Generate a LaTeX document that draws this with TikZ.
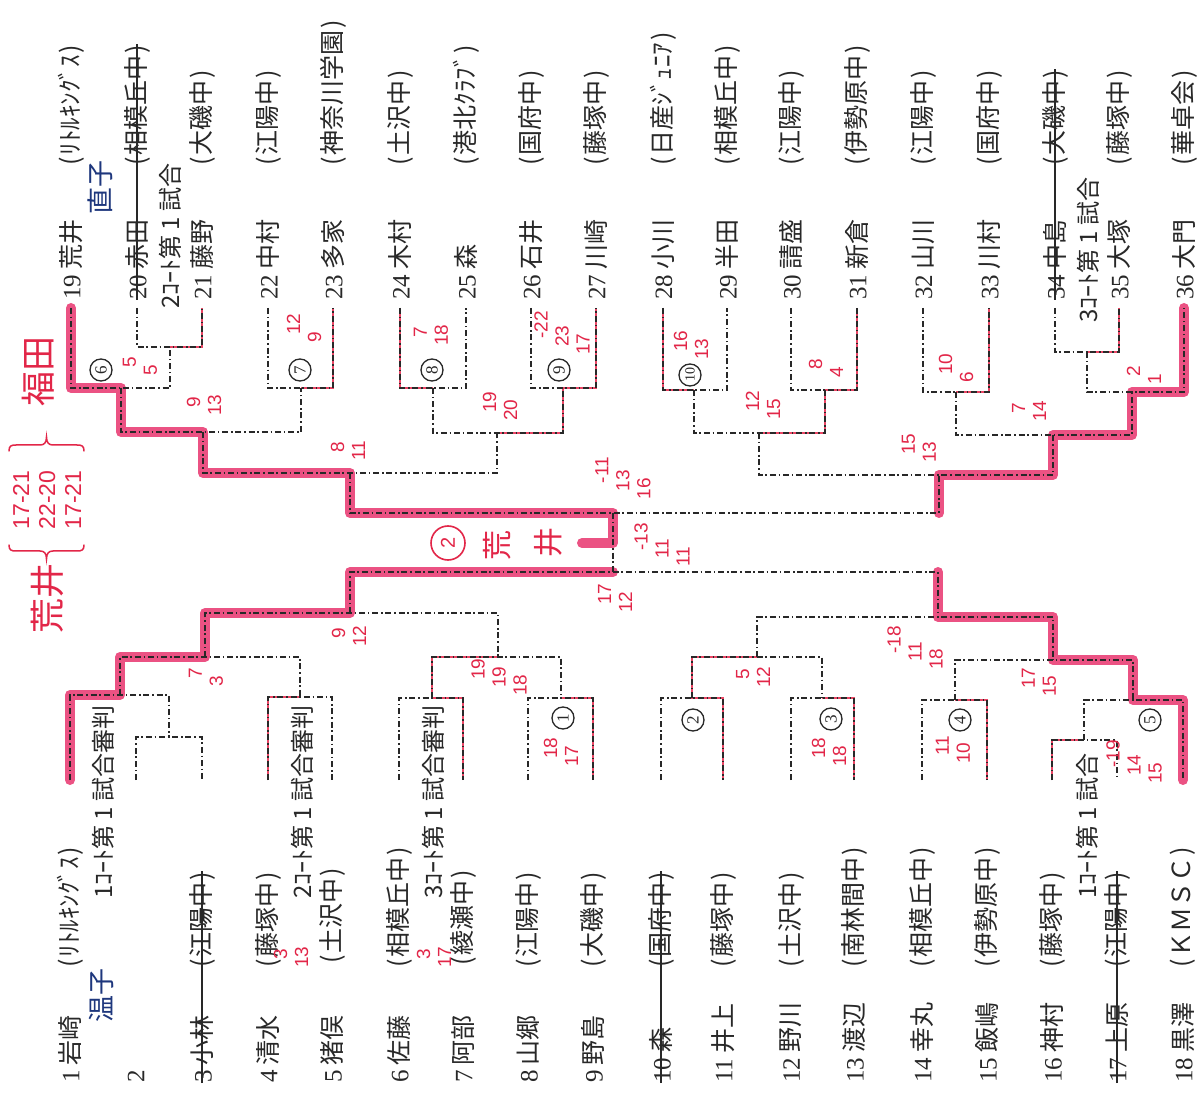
\documentclass[tikz,border=0pt]{standalone}
\usepackage{fontspec}
\setmainfont{Liberation Serif}
\newfontfamily\jp{Noto Sans CJK JP}
\newfontfamily\hand{Liberation Sans}
\usetikzlibrary{calc}
\definecolor{champ}{RGB}{232,52,110}
\definecolor{winred}{RGB}{232,50,85}
\definecolor{scorered}{RGB}{226,38,72}
\definecolor{inkblue}{RGB}{30,55,125}
\definecolor{ink}{RGB}{40,40,40}
\newcommand\plname[2]{#1\hspace{2.5pt}{\jp #2}}
\newcommand\schl[1]{{\jp (\hspace{1pt}#1\hspace{1pt})}}
\newcommand\scoII[2]{\hspace*{4pt}#1\\#2}
\newcommand\scoIII[3]{\hspace*{8pt}#1\\\hspace*{4pt}#2\\#3}
\tikzset{
  br/.style={draw=ink, line width=0.7pt, dash pattern=on 3pt off 1.4pt on 0.8pt off 1.4pt},
  champpath/.style={draw=champ, line width=5pt, opacity=0.85, line join=round, line cap=round},
  winpath/.style={draw=winred, line width=1.1pt, opacity=0.9},
  pname/.style={rotate=90, anchor=west, inner sep=0pt, font=\fontsize{12.5}{13}\selectfont, text=ink},
  court/.style={rotate=90, anchor=east, inner sep=0pt, font=\jp\fontsize{12}{13}\selectfont, text=ink},
  score/.style={rotate=90, text=scorered, font=\hand\fontsize{9.5}{10.5}\selectfont, align=left, inner sep=0pt},
  rnd/.style={circle, draw=ink, line width=0.65pt, minimum size=11pt, inner sep=0pt, rotate=90, font=\fontsize{8.5}{9}\selectfont, text=ink},
  strike/.style={draw=ink, line width=0.75pt},
  blue/.style={rotate=90, text=inkblue, inner sep=0pt, font=\jp\fontsize{13.5}{14}\selectfont},
  redbrace/.style={draw=scorered, line width=0.75pt, line cap=round},
  redjp/.style={rotate=90, text=scorered, inner sep=0pt, font=\jp\fontsize{17.5}{17.5}\selectfont},
}
\begin{document}
\begin{tikzpicture}[x=0.5pt,y=-0.5pt]
\fill[white] (0,0) rectangle (1200,1101);
\useasboundingbox (0,0) rectangle (1200,1101);

% ---------- leaf coordinates ----------
\foreach \i/\x in {1/70,2/136,3/202,4/268,5/332,6/399,7/463,8/528,9/593,10/661,11/723,12/791,13/854,14/922,15/987,16/1052,17/1117,18/1183}{\coordinate (p\i) at (\x,780);}
\foreach \i/\x in {19/71,20/137,21/202,22/268,23/333,24/400,25/466,26/531,27/596,28/663,29/727,30/791,31/857,32/923,33/989,34/1055,35/1119,36/1184}{\coordinate (p\i) at (\x,308);}

% ---------- junctions (bottom half) ----------
\coordinate (j23) at (169,737);
\coordinate (j1) at (120,695);
\coordinate (j45) at (300,697);
\coordinate (jA) at (205,657);
\coordinate (j67) at (432,698);
\coordinate (j89) at (561,698);
\coordinate (jB) at (498,657);
\coordinate (jL) at (350,613);
\coordinate (j1011) at (692,698);
\coordinate (j1213) at (822,698);
\coordinate (jC) at (757,657);
\coordinate (j1415) at (955,700);
\coordinate (j1617) at (1084,740);
\coordinate (j18) at (1133,700);
\coordinate (jD) at (1053,660);
\coordinate (jR) at (938,617);
\coordinate (jBot) at (613,572);
% ---------- junctions (top half) ----------
\coordinate (k2021) at (170,347);
\coordinate (k19) at (121,388);
\coordinate (k2223) at (301,388);
\coordinate (kA) at (203,432);
\coordinate (k2425) at (433,388);
\coordinate (k2627) at (563,388);
\coordinate (kB) at (497,433);
\coordinate (kL) at (350,473);
\coordinate (k2829) at (694,390);
\coordinate (k3031) at (825,390);
\coordinate (kC) at (759,433);
\coordinate (k3233) at (956,392);
\coordinate (k3435) at (1087,352);
\coordinate (k36) at (1132,392);
\coordinate (kD) at (1053,435);
\coordinate (kR) at (939,475);
\coordinate (kTop) at (613,513);
\coordinate (hk1) at (613,543);
\coordinate (hk2) at (582,543);

% ---------- highlighted paths ----------
\draw[champpath] (p19) |- (k19) |- (kA) |- (kL) |- (kTop) -- (hk1) -- (hk2);
\draw[champpath] (p36) |- (k36) |- (kD) |- (kR) -- (kR |- kTop);
\draw[champpath] (p1) |- (j1) |- (jA) |- (jL) |- (jBot);
\draw[champpath] (p18) |- (j18) |- (jD) |- (jR) -- (jR |- jBot);

\draw[winpath] (p4) |- (j45);
\draw[winpath] (p7) |- (j67) |- (jB);
\draw[winpath] (p9) |- (j89);
\draw[winpath] (p11) |- (j1011) |- (jC);
\draw[winpath] (p13) |- (j1213);
\draw[winpath] (p15) |- (j1415);
\draw[winpath] (p16) |- (j1617);
\draw[winpath] (p21) |- (k2021);
\draw[winpath] (p23) |- (k2223);
\draw[winpath] (p24) |- (k2425);
\draw[winpath] (p27) |- (k2627) |- (kB);
\draw[winpath] (p28) |- (k2829);
\draw[winpath] (p31) |- (k3031) |- (kC);
\draw[winpath] (p33) |- (k3233);
\draw[winpath] (p35) |- (k3435);

% ---------- bracket (dash-dot) ----------
\draw[br] (p2) |- (j23) -| (p3);
\draw[br] (p1) |- (j1) -| (j23);
\draw[br] (p4) |- (j45) -| (p5);
\draw[br] (j1) |- (jA) -| (j45);
\draw[br] (p6) |- (j67) -| (p7);
\draw[br] (p8) |- (j89) -| (p9);
\draw[br] (j67) |- (jB) -| (j89);
\draw[br] (jA) |- (jL) -| (jB);
\draw[br] (p10) |- (j1011) -| (p11);
\draw[br] (p12) |- (j1213) -| (p13);
\draw[br] (j1011) |- (jC) -| (j1213);
\draw[br] (p14) |- (j1415) -| (p15);
\draw[br] (p16) |- (j1617) -| (p17);
\draw[br] (j1617) |- (j18) -| (p18);
\draw[br] (j1415) |- (jD) -| (j18);
\draw[br] (jC) |- (jR) -| (jD);
\draw[br] (jL) |- (jBot) -| (jR);
\draw[br] (p20) |- (k2021) -| (p21);
\draw[br] (p19) |- (k19) -| (k2021);
\draw[br] (p22) |- (k2223) -| (p23);
\draw[br] (k19) |- (kA) -| (k2223);
\draw[br] (p24) |- (k2425) -| (p25);
\draw[br] (p26) |- (k2627) -| (p27);
\draw[br] (k2425) |- (kB) -| (k2627);
\draw[br] (kA) |- (kL) -| (kB);
\draw[br] (p28) |- (k2829) -| (p29);
\draw[br] (p30) |- (k3031) -| (p31);
\draw[br] (k2829) |- (kC) -| (k3031);
\draw[br] (p32) |- (k3233) -| (p33);
\draw[br] (p34) |- (k3435) -| (p35);
\draw[br] (k3435) |- (k36) -| (p36);
\draw[br] (k3233) |- (kD) -| (k36);
\draw[br] (kC) |- (kR) -| (kD);
\draw[br] (kL) |- (kTop) -| (kR);
\draw[br] (kTop) -- (jBot);

% ---------- bottom names ----------
\node[pname] (n1) at (70,1083) {\plname{1}{岩崎}};
\node[pname] (n2) at (136,1083) {2};
\node[pname] (n3) at (202,1083) {\plname{3}{小林}};
\node[pname] (n4) at (268,1083) {\plname{4}{清水}};
\node[pname] (n5) at (332,1083) {\plname{5}{猪俣}};
\node[pname] (n6) at (399,1083) {\plname{6}{佐藤}};
\node[pname] (n7) at (463,1083) {\plname{7}{阿部}};
\node[pname] (n8) at (528,1083) {\plname{8}{山郷}};
\node[pname] (n9) at (593,1083) {\plname{9}{野島}};
\node[pname] (n10) at (661,1083) {\plname{10}{森}};
\node[pname] (n11) at (723,1083) {\plname{11}{井上}};
\node[pname] (n12) at (791,1083) {\plname{12}{野川}};
\node[pname] (n13) at (854,1083) {\plname{13}{渡辺}};
\node[pname] (n14) at (922,1083) {\plname{14}{幸丸}};
\node[pname] (n15) at (987,1083) {\plname{15}{飯嶋}};
\node[pname] (n16) at (1052,1083) {\plname{16}{神村}};
\node[pname] (n17) at (1117,1083) {\plname{17}{上原}};
\node[pname] (n18) at (1183,1083) {\plname{18}{黒澤}};
% ---------- bottom schools ----------
\node[pname] (s1) at (70,968) {\schl{ﾘﾄﾙｷﾝｸﾞｽ}};
\node[pname] (s3) at (202,968) {\schl{江陽中}};
\node[pname] (s4) at (268,968) {\schl{藤塚中}};
\node[pname] (s5) at (332,964) {\schl{土沢中}};
\node[pname] (s6) at (399,968) {\schl{相模丘中}};
\node[pname] (s7) at (463,966) {\schl{綾瀬中}};
\node[pname] (s8) at (528,968) {\schl{江陽中}};
\node[pname] (s9) at (593,968) {\schl{大磯中}};
\node[pname] (s10) at (661,968) {\schl{国府中}};
\node[pname] (s11) at (723,968) {\schl{藤塚中}};
\node[pname] (s12) at (791,968) {\schl{土沢中}};
\node[pname] (s13) at (854,968) {\schl{南林間中}};
\node[pname] (s14) at (922,968) {\schl{相模丘中}};
\node[pname] (s15) at (987,968) {\schl{伊勢原中}};
\node[pname] (s16) at (1052,968) {\schl{藤塚中}};
\node[pname] (s17) at (1117,968) {\schl{江陽中}};
\node[pname] (s18) at (1183,968) {\schl{ＫＭＳＣ}};
% ---------- top names ----------
\node[pname] (n19) at (71,300) {\plname{19}{荒井}};
\node[pname] (n20) at (137,300) {\plname{20}{赤田}};
\node[pname] (n21) at (202,300) {\plname{21}{藤野}};
\node[pname] (n22) at (268,300) {\plname{22}{中村}};
\node[pname] (n23) at (333,300) {\plname{23}{多家}};
\node[pname] (n24) at (400,300) {\plname{24}{木村}};
\node[pname] (n25) at (466,300) {\plname{25}{森}};
\node[pname] (n26) at (531,300) {\plname{26}{石井}};
\node[pname] (n27) at (596,300) {\plname{27}{川崎}};
\node[pname] (n28) at (663,300) {\plname{28}{小川}};
\node[pname] (n29) at (727,300) {\plname{29}{半田}};
\node[pname] (n30) at (791,300) {\plname{30}{請盛}};
\node[pname] (n31) at (857,300) {\plname{31}{新倉}};
\node[pname] (n32) at (923,300) {\plname{32}{山川}};
\node[pname] (n33) at (989,300) {\plname{33}{川村}};
\node[pname] (n34) at (1055,300) {\plname{34}{中島}};
\node[pname] (n35) at (1119,300) {\plname{35}{大塚}};
\node[pname] (n36) at (1184,300) {\plname{36}{大門}};
% ---------- top schools ----------
\node[pname] (s19) at (71,166) {\schl{ﾘﾄﾙｷﾝｸﾞｽ}};
\node[pname] (s20) at (137,166) {\schl{相模丘中}};
\node[pname] (s21) at (202,166) {\schl{大磯中}};
\node[pname] (s22) at (268,166) {\schl{江陽中}};
\node[pname] (s23) at (333,166) {\schl{神奈川学園}};
\node[pname] (s24) at (400,166) {\schl{土沢中}};
\node[pname] (s25) at (466,166) {\schl{港北ｸﾗﾌﾞ}};
\node[pname] (s26) at (531,166) {\schl{国府中}};
\node[pname] (s27) at (596,166) {\schl{藤塚中}};
\node[pname] (s28) at (663,166) {\schl{日産ｼﾞｭﾆｱ}};
\node[pname] (s29) at (727,166) {\schl{相模丘中}};
\node[pname] (s30) at (791,166) {\schl{江陽中}};
\node[pname] (s31) at (857,166) {\schl{伊勢原中}};
\node[pname] (s32) at (923,166) {\schl{江陽中}};
\node[pname] (s33) at (989,166) {\schl{国府中}};
\node[pname] (s34) at (1055,166) {\schl{大磯中}};
\node[pname] (s35) at (1119,166) {\schl{藤塚中}};
\node[pname] (s36) at (1184,166) {\schl{華卓会}};

% ---------- strike-throughs ----------
\draw[strike] (n3.west) -- (s3.east);
\draw[strike] (n10.west) -- (s10.east);
\draw[strike] (n17.west) -- (s17.east);
\draw[strike] (n20.west) -- (s20.east);
\draw[strike] (n34.west) -- (s34.east);

% ---------- court notes ----------
\node[court] (c1) at (103,705) {1ｺｰﾄ第 1 試合審判};
\node[court] (c2) at (302,705) {2ｺｰﾄ第 1 試合審判};
\node[court] (c3) at (433,705) {3ｺｰﾄ第 1 試合審判};
\node[court] (c4) at (1087,753) {1ｺｰﾄ第 1 試合};
\node[court] (c5) at (170,163) {2ｺｰﾄ第 1 試合};
\node[court] (c6) at (1088,177) {3ｺｰﾄ第 1 試合};

% ---------- match numbers ----------
\node[rnd] (r1) at (563,718) {1};
\node[rnd] (r2) at (693,720) {2};
\node[rnd] (r3) at (831,719) {3};
\node[rnd] (r4) at (960,720) {4};
\node[rnd] (r5) at (1150,720) {5};
\node[rnd] (r6) at (101,370) {6};
\node[rnd] (r7) at (300,370) {7};
\node[rnd] (r8) at (432,370) {8};
\node[rnd] (r9) at (559,370) {9};
\node[rnd, font=\fontsize{7}{7}\selectfont] (r10) at (690,375) {10};

% ---------- scores ----------
\node[score] (sc6) at (140,366) {\scoII{5}{5}};
\node[score] (sc7) at (304,328) {\scoII{12}{9}};
\node[score] (scA) at (204,405) {\scoII{9}{13}};
\node[score] (sc8) at (431,335) {\scoII{7}{18}};
\node[score] (sc9) at (562,333) {\scoIII{-22}{23}{17}};
\node[score] (scB) at (500,406) {\scoII{19}{20}};
\node[score] (scL) at (348,451) {\scoII{8}{11}};
\node[score] (sc10) at (691,345) {\scoII{16}{13}};
\node[score] (scE) at (826,368) {\scoII{8}{4}};
\node[score] (scC) at (763,405) {\scoII{12}{15}};
\node[score] (scG) at (956,368) {\scoII{10}{6}};
\node[score] (scH) at (1144,375) {\scoII{2}{1}};
\node[score] (scD) at (1029,411) {\scoII{7}{14}};
\node[score] (scR) at (919,448) {\scoII{15}{13}};
\node[score] (scF1) at (623,478) {\scoIII{-11}{13}{16}};
\node[score] (scF2) at (662,545) {\scoIII{-13}{11}{11}};
\node[score] (scF3) at (615,598) {\scoII{17}{12}};
\node[score] (sbA) at (206,677) {\scoII{7}{3}};
\node[score] (sbL) at (349,636) {\scoII{9}{12}};
\node[score] (sbB) at (499,677) {\scoIII{19}{19}{18}};
\node[score] (sb1) at (561,752) {\scoII{18}{17}};
\node[score] (sbC) at (753,677) {\scoII{5}{12}};
\node[score] (sb3) at (829,752) {\scoII{18}{18}};
\node[score] (sb4) at (953,750) {\scoII{11}{10}};
\node[score] (sb5) at (1134,762) {\scoIII{-19}{14}{15}};
\node[score] (sbR) at (915,648) {\scoIII{-18}{11}{18}};
\node[score] (sbD) at (1039,682) {\scoII{17}{15}};
\node[score] (sb45) at (291,957) {\scoII{3}{13}};
\node[score] (sb67) at (434,957) {\scoII{3}{17}};

% ---------- final box ----------
\node[circle, draw=scorered, line width=0.8pt, minimum size=17pt, inner sep=0pt, text=scorered, rotate=90, font=\hand\fontsize{10}{10}\selectfont] (fin) at (448,543) {2};
\node[rotate=90, text=scorered, inner sep=0pt, font=\jp\fontsize{15}{15}\selectfont] (fa) at (497,545) {荒};
\node[rotate=90, text=scorered, inner sep=0pt, font=\jp\fontsize{15}{15}\selectfont] (fb) at (548,543) {井};

% ---------- side annotation ----------
\node[redjp] (ann1) at (47,598) {荒井};
\node[rotate=90, text=scorered, inner sep=0pt, font=\hand\fontsize{11.5}{13}\selectfont, align=center] (ann2) at (47,500) {17-21\\22-20\\17-21};
\node[redjp] (ann3) at (38,372) {福田};
% braces drawn as curves (lower one opens toward the scores, tip toward 荒井)
\draw[redbrace] (9,545) .. controls (9,550) and (11,551) .. (16,551) -- (40,551)
  .. controls (44,551) and (46.5,553) .. (46.5,559)
  .. controls (46.5,553) and (49,551) .. (53,551) -- (77,551)
  .. controls (82,551) and (84,550) .. (84,545);
\draw[redbrace] (9,451) .. controls (9,446) and (11,445) .. (16,445) -- (40,445)
  .. controls (44,445) and (46.5,443) .. (46.5,437)
  .. controls (46.5,443) and (49,445) .. (53,445) -- (77,445)
  .. controls (82,445) and (84,446) .. (84,451);

% ---------- blue notes ----------
\node[blue] (bl1) at (100,188) {直子};
\node[blue] (bl2) at (101,995) {温子};
\end{tikzpicture}
\end{document}
